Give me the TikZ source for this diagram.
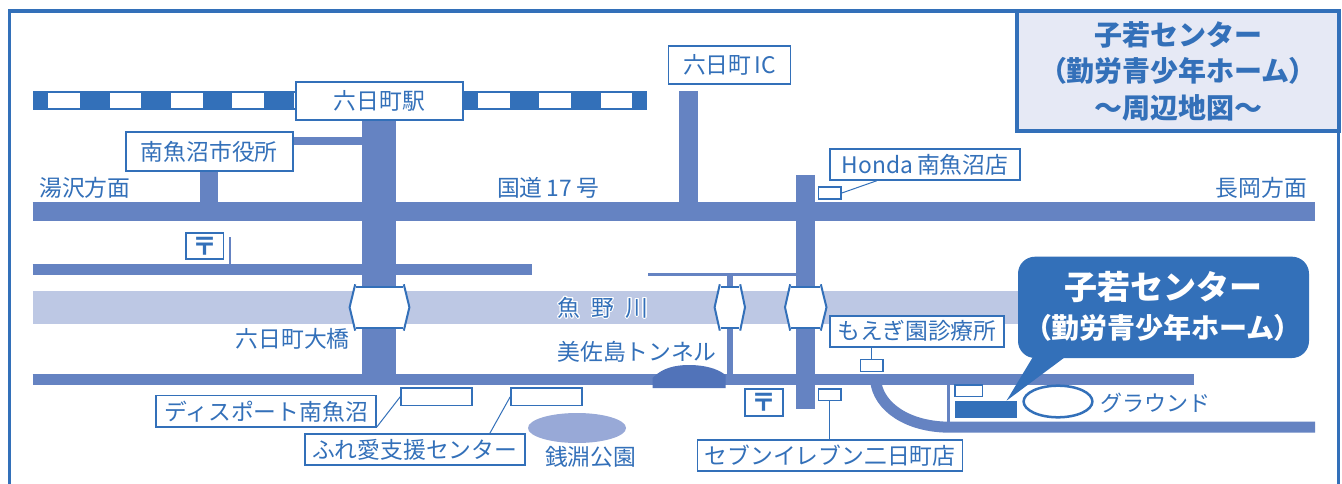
\documentclass[tikz,border=0pt]{standalone}
\usepackage{fontspec}
\usepackage[copies]{contour}
\contourlength{1pt}
\setmainfont{Noto Sans CJK JP}
\newfontfamily\pf[RawFeature={+palt}]{Noto Sans CJK JP}
\usetikzlibrary{calc,shapes.geometric}
\definecolor{ink}{HTML}{3370B9}
\definecolor{roadc}{HTML}{6583C2}
\definecolor{riverc}{HTML}{BDC8E4}
\definecolor{parkc}{HTML}{98A9D7}
\definecolor{titlec}{HTML}{E6E9F5}
\definecolor{tunnelc}{HTML}{5173B9}
\newcommand{\fs}[1]{\fontsize{#1}{#1}\selectfont}
\newcommand{\lp}{{\pf\bfseries （}}
\newcommand{\rp}{{\pf\bfseries ）}}
\tikzset{
  road/.style={draw=roadc,line cap=butt},
  labelbox/.style={draw=ink,fill=white,line width=1.6pt,inner sep=0pt,text=ink,font=\fs{22.8}},
  plain/.style={inner sep=0pt,text=ink,font=\fs{22.8}},
  mark box/.style={draw=ink,fill=white,line width=1.6pt,inner sep=0pt},
  leader/.style={draw=ink,line width=1pt},
  bridge/.style={draw=ink,fill=white,line width=2pt,line join=miter},
  post/.style={draw=ink,fill=white,line width=1.6pt,inner sep=0pt,text=ink,font=\bfseries\fs{25}},
}
\begin{document}
\begin{tikzpicture}[x=1pt,y=-1pt]
\useasboundingbox (0,0) rectangle (1342,484);
\fill[white] (0,0) rectangle (1342,484);
% frame
\draw[ink,line width=3.5pt] (9.5,484) -- (9.5,11) -- (1338.5,11) -- (1338.5,484);
% river
\fill[riverc] (32.5,290.7) rectangle (1022,324);
% railway
\fill[ink] (32.5,91) rectangle (647,110);
\foreach \a in {48,109.5,171,232,293.5,355,416.5,478,539,600.5}
  \fill[white] (\a,93.5) rectangle +(31.5,15);
% roads
\coordinate (h17w) at (32.5,211.5); \coordinate (h17e) at (1315,211.5);
\coordinate (r2w) at (32.5,269.2); \coordinate (r2e) at (531.6,269.2);
\coordinate (lw) at (32.5,379.7); \coordinate (le) at (1194,379.7);
\coordinate (mt) at (379,120); \coordinate (mb) at (379,379);
\coordinate (ict) at (688.7,91); \coordinate (icb) at (688.7,204);
\coordinate (ht) at (805.5,175); \coordinate (hb) at (805.5,409);
\coordinate (tw) at (648,274.4); \coordinate (te) at (797,274.4);
\coordinate (tvt) at (730,274); \coordinate (tvb) at (730,380);
\coordinate (cs) at (875.5,380); \coordinate (ce) at (950,427.2); \coordinate (ee) at (1315,427.2);
\coordinate (vt) at (948.5,381); \coordinate (vb) at (948.5,422);
\draw[road,line width=19pt] (h17w) -- (h17e);
\draw[road,line width=11pt] (r2w) -- (r2e);
\draw[road,line width=11pt] (lw) -- (le);
\draw[road,line width=34pt] (mt) -- (mb);
\draw[road,line width=18.6pt] (ict) -- (icb);
\draw[road,line width=18.6pt] (ht) -- (hb);
\draw[road,line width=3.4pt] (tw) -- (te);
\draw[road,line width=6.8pt] (tvt) -- (tvb);
\draw[road,line width=11pt] (cs) .. controls (878,407) and (908,427.2) .. (ce) -- (ee);
\draw[road,line width=3pt] (vt) -- (vb);
\coordinate (cht) at (209,171); \coordinate (chb) at (209,204);
\draw[road,line width=18.4pt] (cht) -- (chb);
\coordinate (chl) at (293,141); \coordinate (chr) at (363,141);
\draw[road,line width=8pt] (chl) -- (chr);
\coordinate (pt) at (230,237); \coordinate (pb) at (230,264);
\draw[road,line width=2.4pt] (pt) -- (pb);
% park and tunnel
\fill[parkc] (577,428) ellipse [x radius=49,y radius=15];
\fill[tunnelc] (652.6,388) -- (652.6,378) .. controls (662,368) and (675,365) .. (689,365) .. controls (703,365) and (717,368) .. (725.5,375) -- (725.5,388) -- cycle;
% bridges
\foreach \l/\tl/\tr/\r in {349.6/356/403/409.4, 714.6/720.6/739.4/745, 785/791/820/826.5}{
  \fill[white] (\l,307.3) -- (\tl,286.7) -- (\tr,286.7) -- (\r,307.3) -- (\tr,328.3) -- (\tl,328.3) -- cycle;
  \draw[bridge] (\tl-0.8,284.3) -- (\l,307.3) -- (\tl-0.8,330.6);
  \draw[bridge] (\tr+0.8,284.3) -- (\r,307.3) -- (\tr+0.8,330.6);
  \draw[bridge] (\tl,286.7) -- (\tr,286.7) (\tl,328.3) -- (\tr,328.3);
}
% labels with boxes
\node[labelbox,minimum width=167pt,minimum height=38pt] (station) at (379.5,101) {六日町駅};
\node[labelbox,minimum width=167pt,minimum height=39pt] (cityhall) at (209.3,151.5) {南魚沼市役所};
\node[labelbox,minimum width=122pt,minimum height=38pt] (ic) at (729.5,65) {六日町\hspace{3pt}IC};
\node[labelbox,minimum width=190pt,minimum height=31pt] (honda) at (925,164.5) {Honda\hspace{4pt}南魚沼店};
\node[labelbox,minimum width=174pt,minimum height=31pt] (moegi) at (917,331.2) {もえぎ園診療所};
\node[labelbox,minimum width=220pt,minimum height=31.3pt] (disport) at (266,411.3) {ディスポート南魚沼};
\node[labelbox,minimum width=220pt,minimum height=31pt] (fureai) at (414.7,449.5) {ふれ愛支援センター};
\node[labelbox,minimum width=265pt,minimum height=31pt] (seven) at (830,455.5) {セブンイレブン二日町店};
% small markers
\node[mark box,minimum width=22.5pt,minimum height=12pt] (hondasq) at (829.8,193) {};
\node[mark box,minimum width=22.4pt,minimum height=12pt] (moegisq) at (871.8,365.3) {};
\node[mark box,minimum width=71pt,minimum height=17.7pt] (dissq) at (436.5,396.8) {};
\node[mark box,minimum width=71pt,minimum height=17.7pt] (fursq) at (546.5,396.8) {};
\node[mark box,minimum width=22.5pt,minimum height=11.7pt] (sevensq) at (829.8,394.8) {};
\node[mark box,minimum width=27.5pt,minimum height=11.6pt] (gsq) at (968.7,390.5) {};
% leaders
\draw[leader] (hondasq.east) -- ([xshift=47.4pt]honda.south west);
\draw[leader] (moegisq.north) -- (moegisq.north |- moegi.south);
\draw[leader] (dissq.west) -- ([yshift=-15.7pt]disport.east);
\draw[leader] (fursq.west) -- ([xshift=186pt]fureai.north west);
\draw[leader] (sevensq.south) -- (sevensq.south |- seven.north);
% post offices
\node[post,minimum width=37.5pt,minimum height=26.3pt] (post1) at (204.7,246) {〒};
\node[post,minimum width=37.5pt,minimum height=27pt] (post2) at (764,402.5) {〒};
% plain labels
\node[plain] (yuzawa) at (85,188) {湯沢方面};
\node[plain] (r17) at (548,188) {国道\hspace{4pt}17\hspace{4pt}号};
\node[plain] (nagaoka) at (1261.5,188) {長岡方面};
\node[plain] (river) at (603,308) {\contour{white}{魚\hspace{11pt}野\hspace{11pt}川}};
\node[plain] (ohashi) at (292.7,339) {六日町大橋};
\node[plain] (misa) at (637,352) {美佐島トンネル};
\node[plain] (zen) at (590.6,457) {銭淵公園};
\node[plain,font=\fs{22}] (ground) at (1155,402.7) {グラウンド};
% facility
\fill[ink] (954.6,400.7) rectangle (1017,418.3);
\node[draw=ink,fill=white,line width=2.5pt,ellipse,minimum width=68.8pt,minimum height=31.6pt,inner sep=0pt] (oval) at (1058,401.5) {};
% callout
\fill[ink,rounded corners=17pt] (1018,256.7) rectangle (1309,358);
\fill[ink] (1033.5,356) -- (1066.5,356) -- (1006.5,400.7) -- cycle;
\node[inner sep=0pt,text=white,font=\bfseries\fs{33}] (c1) at (1163,286.7) {子若センター};
\node[inner sep=0pt,text=white,font=\bfseries\fs{28}] (c2) at (1163,328) {\lp 勤労青少年ホーム\rp};
% title
\node[draw=ink,fill=titlec,line width=4pt,minimum width=322pt,minimum height=120pt,inner sep=0pt] (title) at (1177.5,71.5) {};
\node[inner sep=0pt,text=ink,font=\bfseries\fs{28}] (t1) at (1178,35) {子若センター};
\node[inner sep=0pt,text=ink,font=\bfseries\fs{28}] (t2) at (1178,71) {\lp 勤労青少年ホーム\rp};
\node[inner sep=0pt,text=ink,font=\bfseries\fs{28}] (t3) at (1178,108) {～周辺地図～};
\end{tikzpicture}
\end{document}
